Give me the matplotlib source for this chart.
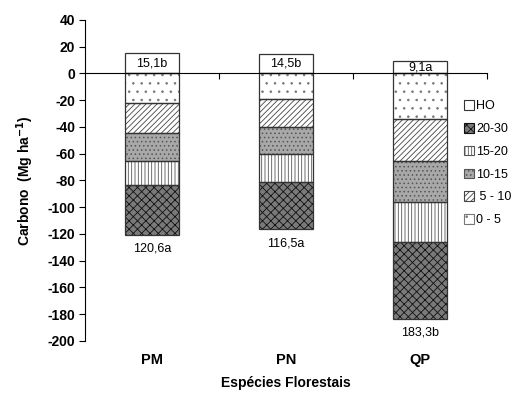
import numpy as np
import matplotlib
matplotlib.use("Agg")
import matplotlib.pyplot as plt
from matplotlib.patches import Patch
from matplotlib.transforms import blended_transform_factory

plt.rcParams['font.family'] = ['Liberation Sans', 'DejaVu Sans']
plt.rcParams['axes.unicode_minus'] = False
plt.rcParams['hatch.linewidth'] = 0.6

# data (Mg ha-1)
especies = ['PM', 'PN', 'QP']
ho = [15.1, 14.5, 9.1]
ho_txt = ['15,1b', '14,5b', '9,1a']
c0_5 = [22.3, 19.1, 34.0]
c5_10 = [22.4, 21.2, 31.2]
c10_15 = [20.7, 19.9, 31.0]
c15_20 = [18.0, 20.7, 29.5]
c20_30 = [37.2, 35.6, 57.6]
total_txt = ['120,6a', '116,5a', '183,3b']

# style per layer: face, hatch, hatch colour
layers = [
    ('0 - 5', c0_5, 'white', '..', '#777777'),
    (' 5 - 10', c5_10, 'white', '//////', '#444444'),
    ('10-15', c10_15, '#a8a8a8', '....', '#555555'),
    ('15-20', c15_20, 'white', '|||||', '#555555'),
    ('20-30', c20_30, '#7a7a7a', 'xxxx', '#111111'),
]

x = np.arange(len(especies))
w = 0.4

fig = plt.figure(figsize=(5.21, 3.96), dpi=100)
ax = fig.add_axes([0.163, 0.139, 0.772, 0.811])

# HO on top (positive)
ax.bar(x, ho, w, color='white', edgecolor='#333333', linewidth=0.9, zorder=3)
for i in range(len(x)):
    ax.text(x[i], ho[i] / 2, ho_txt[i], ha='center', va='center', fontsize=9, zorder=4)

# soil layers, negative
bottom = np.zeros(len(x))
for name, vals, fc, h, hc in layers:
    vals = -np.array(vals)
    ax.bar(x, vals, w, bottom=bottom, color=fc, edgecolor=hc, hatch=h, linewidth=0, zorder=2)
    ax.bar(x, vals, w, bottom=bottom, fill=False, edgecolor='#333333', linewidth=0.9, zorder=3)
    bottom = bottom + vals

for i in range(len(x)):
    ax.annotate(total_txt[i], (x[i], bottom[i]), xytext=(0, -10), textcoords='offset points',
                ha='center', va='center', fontsize=9)

ax.set_xlim(-0.5, 2.5)
ax.set_ylim(-200, 40)
ax.set_yticks(np.arange(-200, 41, 20))
ax.tick_params(axis='y', direction='out', length=4, width=0.8, labelsize=10, pad=3)
for t in ax.get_yticklabels():
    t.set_fontweight('bold')

ax.spines['top'].set_visible(False)
ax.spines['right'].set_visible(False)
ax.spines['bottom'].set_position(('data', 0))
ax.spines['bottom'].set_zorder(5)
ax.spines['left'].set_linewidth(0.8)
ax.spines['bottom'].set_linewidth(0.8)
ax.set_xticks([0.5, 1.5, 2.5])
ax.set_xticklabels([])
ax.tick_params(axis='x', direction='out', length=4, width=0.8)

trans = blended_transform_factory(ax.transData, ax.transAxes)
for i in range(len(x)):
    ax.text(x[i], -0.06, especies[i], transform=trans, ha='center', va='center',
            fontsize=10.5, fontweight='bold')
ax.text(0.5, -0.13, 'Espécies Florestais', transform=ax.transAxes, ha='center', va='center',
        fontsize=10, fontweight='bold')
ax.set_ylabel('Carbono  (Mg ha$^{\\mathbf{-1}}$)', fontsize=10, fontweight='bold', labelpad=8)

handles = [Patch(facecolor='white', edgecolor='#333333', linewidth=0.8, label='HO')]
for name, vals, fc, h, hc in reversed(layers):
    handles.append(Patch(facecolor=fc, edgecolor=hc, hatch=h, linewidth=0.8, label=name))
ax.legend(handles=handles, loc='upper left', bbox_to_anchor=(0.93, 0.765), frameon=False,
          fontsize=9, handlelength=0.8, handleheight=0.8, handletextpad=0.2,
          labelspacing=0.85, borderaxespad=0)

fig.savefig('out.png', dpi=100)
